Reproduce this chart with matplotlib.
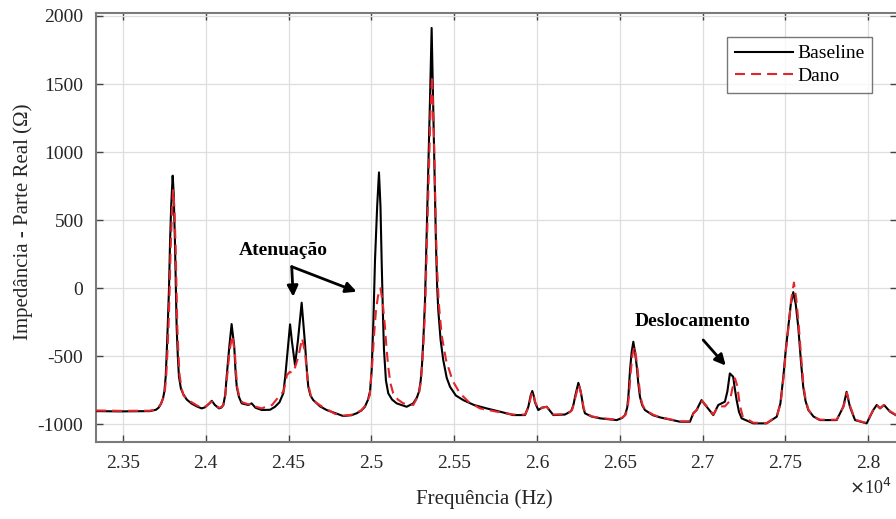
import matplotlib
matplotlib.use("Agg")
import matplotlib.pyplot as plt
from matplotlib.ticker import FuncFormatter

plt.rcParams['font.family'] = ['Liberation Serif', 'DejaVu Serif']

# (frequency in Hz, real-part impedance in Ohm)
baseline_points = [
    (23337, -905), (23482, -907), (23663, -905), (23699, -895), (23715, -880), (23730, -850),
    (23742, -810), (23750, -760), (23758, -650), (23764, -480), (23770, -285), (23778, 0),
    (23784, 329), (23791, 600), (23800, 826), (23806, 700), (23814, 329), (23819, 0),
    (23824, -285), (23831, -500), (23838, -652), (23850, -740), (23864, -780), (23885, -820),
    (23915, -850), (23945, -870), (23975, -885), (23995, -877), (24020, -850), (24036, -829),
    (24055, -860), (24080, -885), (24095, -878), (24106, -860), (24118, -780), (24126, -652),
    (24142, -432), (24156, -265), (24172, -432), (24180, -620), (24187, -726), (24200, -800),
    (24217, -848), (24257, -860), (24277, -848), (24300, -880), (24338, -897), (24388, -895),
    (24418, -873), (24445, -840), (24468, -774), (24480, -650), (24489, -529), (24509, -267),
    (24521, -400), (24539, -566), (24557, -380), (24579, -108), (24599, -407), (24610, -600),
    (24619, -726), (24632, -790), (24649, -824), (24690, -870), (24730, -897), (24830, -941),
    (24880, -935), (24911, -921), (24940, -900), (24961, -873), (24980, -820), (24992, -760),
    (25002, -600), (25012, -250), (25022, 206), (25035, 600), (25046, 850), (25055, 600),
    (25062, 206), (25070, -200), (25076, -450), (25088, -680), (25102, -774), (25125, -820),
    (25153, -848), (25213, -873), (25253, -848), (25275, -805), (25288, -760), (25298, -680),
    (25306, -560), (25315, -350), (25324, -88), (25333, 350), (25342, 794), (25354, 1382),
    (25364, 1912), (25374, 1309), (25382, 800), (25390, 329), (25397, 20), (25404, -162),
    (25418, -380), (25434, -529), (25455, -660), (25475, -726), (25510, -790), (25555, -824),
    (25620, -860), (25696, -885), (25780, -910), (25857, -934), (25928, -934), (25948, -873),
    (25962, -790), (25972, -757), (25980, -790), (25988, -840), (26008, -897), (26030, -880),
    (26059, -873), (26080, -905), (26099, -934), (26169, -930), (26200, -910), (26210, -897),
    (26222, -850), (26230, -799), (26250, -697), (26262, -750), (26270, -799), (26280, -880),
    (26290, -921), (26330, -945), (26381, -958), (26481, -971), (26515, -955), (26532, -934),
    (26545, -880), (26552, -799), (26562, -603), (26572, -470), (26582, -395), (26592, -470),
    (26603, -579), (26612, -700), (26622, -799), (26635, -860), (26652, -897), (26700, -935),
    (26743, -951), (26864, -983), (26924, -983), (26944, -921), (26964, -897), (26994, -824),
    (27010, -850), (27025, -873), (27065, -934), (27095, -860), (27135, -836), (27150, -760),
    (27165, -628), (27185, -652), (27195, -740), (27206, -824), (27220, -910), (27236, -958),
    (27306, -995), (27387, -995), (27448, -946), (27470, -850), (27488, -652), (27503, -450),
    (27518, -285), (27533, -120), (27548, -30), (27563, -120), (27578, -285), (27593, -520),
    (27608, -726), (27622, -830), (27639, -897), (27670, -945), (27709, -971), (27810, -971),
    (27850, -873), (27870, -763), (27890, -873), (27921, -971), (27991, -995), (28031, -897),
    (28052, -860), (28072, -885), (28096, -860), (28132, -909), (28175, -940),
]

dano_points = [
    (23337, -900), (23482, -903), (23663, -902), (23699, -893), (23715, -878), (23730, -848),
    (23745, -805), (23753, -755), (23761, -650), (23768, -480), (23775, -285), (23782, 0),
    (23788, 300), (23796, 560), (23803, 720), (23810, 600), (23818, 300), (23823, 0),
    (23828, -285), (23835, -490), (23842, -640), (23854, -740), (23866, -790), (23885, -815),
    (23915, -840), (23945, -862), (23975, -880), (24000, -870), (24020, -850), (24036, -835),
    (24055, -858), (24080, -880), (24095, -875), (24106, -860), (24118, -790), (24128, -660),
    (24145, -450), (24160, -350), (24176, -480), (24184, -640), (24190, -730), (24203, -800),
    (24220, -840), (24257, -855), (24280, -850), (24300, -872), (24338, -885), (24370, -870),
    (24400, -860), (24420, -830), (24440, -800), (24470, -760), (24490, -640), (24508, -616),
    (24520, -625), (24535, -600), (24560, -500), (24582, -370), (24600, -480), (24617, -700),
    (24640, -820), (24700, -870), (24780, -925), (24830, -938), (24880, -932), (24911, -918),
    (24940, -898), (24960, -870), (24990, -790), (25005, -560), (25016, -350), (25028, -162),
    (25040, -60), (25055, -2), (25068, -100), (25082, -285), (25092, -450), (25102, -579),
    (25115, -700), (25132, -774), (25160, -820), (25193, -848), (25253, -860), (25275, -810),
    (25290, -760), (25300, -680), (25308, -540), (25318, -330), (25326, -100), (25335, 300),
    (25344, 700), (25356, 1250), (25366, 1560), (25376, 1200), (25382, 900), (25387, 574),
    (25395, 200), (25407, -113), (25425, -350), (25451, -529), (25490, -680), (25535, -774),
    (25590, -840), (25656, -885), (25760, -910), (25857, -930), (25928, -930), (25950, -875),
    (25964, -795), (25974, -765), (25982, -795), (25990, -840), (26010, -895), (26030, -880),
    (26059, -873), (26080, -903), (26099, -930), (26169, -928), (26200, -910), (26212, -897),
    (26224, -850), (26232, -805), (26252, -710), (26264, -760), (26272, -805), (26282, -880),
    (26292, -918), (26330, -943), (26381, -955), (26481, -968), (26515, -952), (26535, -932),
    (26548, -880), (26555, -800), (26567, -610), (26577, -490), (26587, -432), (26597, -490),
    (26607, -590), (26616, -700), (26625, -800), (26638, -860), (26655, -897), (26700, -930),
    (26743, -950), (26864, -980), (26924, -980), (26946, -920), (26966, -895), (26998, -830),
    (27012, -850), (27028, -873), (27065, -930), (27095, -870), (27135, -870), (27165, -830),
    (27180, -740), (27196, -664), (27210, -720), (27225, -860), (27243, -946), (27306, -990),
    (27387, -993), (27448, -945), (27472, -845), (27490, -650), (27505, -440), (27520, -280),
    (27536, -80), (27552, 40), (27566, -80), (27580, -260), (27595, -500), (27610, -720),
    (27624, -830), (27640, -895), (27670, -945), (27709, -968), (27810, -968), (27852, -870),
    (27872, -770), (27892, -870), (27921, -968), (27991, -993), (28031, -895), (28052, -860),
    (28072, -883), (28096, -860), (28132, -905), (28175, -938),
]

x_ticks = [23500, 24000, 24500, 25000, 25500, 26000, 26500, 27000, 27500, 28000]
y_ticks = [-1000, -500, 0, 500, 1000, 1500, 2000]

freq_base = [p[0] for p in baseline_points]
imp_base = [p[1] for p in baseline_points]
freq_dano = [p[0] for p in dano_points]
imp_dano = [p[1] for p in dano_points]

W, H = 896, 519
fig = plt.figure(figsize=(W / 100, H / 100), dpi=100)
ax_left, ax_right, ax_top, ax_bot = 96, 897.1, 13, 442
ax = fig.add_axes([ax_left / W, (H - ax_bot) / H, (ax_right - ax_left) / W, (ax_bot - ax_top) / H])

ax.plot(freq_base, imp_base, color='black', lw=1.5, label='Baseline', zorder=3)
ax.plot(freq_dano, imp_dano, color='#e3262c', lw=1.5, ls=(0, (4.8, 2.9)), label='Dano', zorder=4)

ax.set_xlim(23337, 28175)
ax.set_ylim(-1132, 2022)
ax.set_xticks(x_ticks)
ax.set_yticks(y_ticks)
ax.xaxis.set_major_formatter(FuncFormatter(lambda v, p: '%g' % (v / 1e4)))
ax.yaxis.set_major_formatter(FuncFormatter(lambda v, p: '%d' % v))
ax.grid(True, color='#dedede', lw=0.9, zorder=0)
ax.tick_params(direction='in', length=5, width=1, colors='#444444', labelcolor='#262626',
               labelsize=14, top=True, right=True, pad=9)
for s in ax.spines.values():
    s.set_color('#7a7a7a')
    s.set_linewidth(1.5)

leg = ax.legend(loc='upper right', bbox_to_anchor=(0.969, 0.944), borderaxespad=0,
                fontsize=14, frameon=True, fancybox=False, handlelength=3.0,
                handletextpad=0.2, borderpad=0.4, labelspacing=0.25)
leg.get_frame().set_edgecolor('#555555')
leg.get_frame().set_linewidth(1.0)

# annotations
ax.text(24466, 279, 'Atenuação', fontsize=14, fontweight='bold', ha='center', va='center')
arrow_kw = dict(arrowstyle='-|>', color='black', lw=2, mutation_scale=16, shrinkA=0, shrinkB=0)
ax.annotate('', xy=(24528, -64), xytext=(24519, 157), arrowprops=arrow_kw)
ax.annotate('', xy=(24911, -27), xytext=(24519, 157), arrowprops=arrow_kw)
ax.text(26942, -243, 'Deslocamento', fontsize=14, fontweight='bold', ha='center', va='center')
ax.annotate('', xy=(27140, -570), xytext=(27004, -382), arrowprops=arrow_kw)

fig.text(849 / W, 1 - 488 / H, r'$\times$10$^4$', fontsize=13, color='#262626', ha='left', va='center')
fig.text(484 / W, 1 - 499 / H, 'Frequência (Hz)', fontsize=15, color='#262626', ha='center', va='center')
fig.text(23 / W, 1 - 222 / H, 'Impedância - Parte Real (Ω)', fontsize=15, color='#262626',
         ha='center', va='center', rotation=90)

fig.savefig('out.png', dpi=100)
